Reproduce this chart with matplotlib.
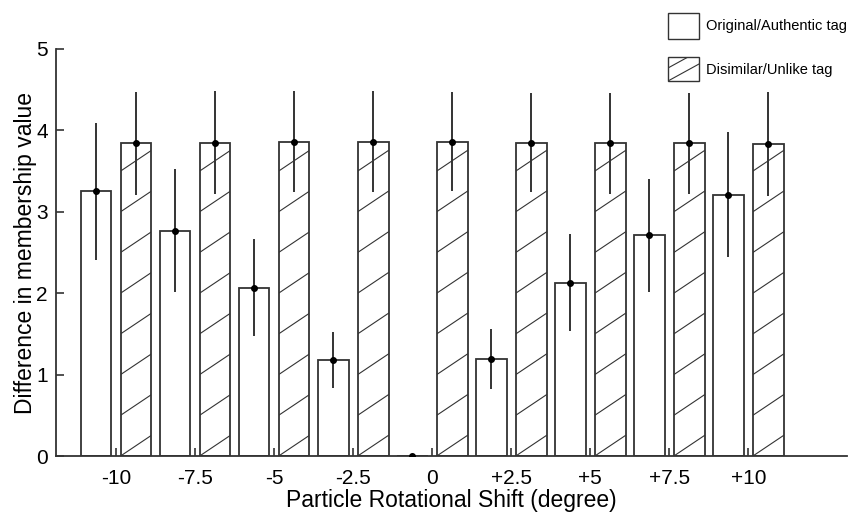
import numpy as np
import matplotlib
matplotlib.use("Agg")
import matplotlib.pyplot as plt
from matplotlib.patches import Rectangle
from matplotlib.lines import Line2D

plt.rcParams["font.family"] = ["Liberation Sans", "DejaVu Sans"]

# ── data ─────────────────────────────────────────────
shift_labels = ["-10", "-7.5", "-5", "-2.5", "0", "+2.5", "+5", "+7.5", "+10"]
authentic = [3.25, 2.77, 2.07, 1.18, 0.0, 1.19, 2.13, 2.71, 3.21]
authentic_err = [0.84, 0.76, 0.60, 0.34, 0.0, 0.37, 0.60, 0.69, 0.77]
unlike = [3.84, 3.85, 3.86, 3.86, 3.86, 3.85, 3.84, 3.84, 3.83]
unlike_err = [0.63, 0.63, 0.62, 0.62, 0.61, 0.61, 0.62, 0.62, 0.64]

edge = "#333333"
x = np.arange(1, len(shift_labels) + 1)
width = 0.39
off = 0.253

fig = plt.figure(figsize=(8.6, 5.14), dpi=100)
ax = fig.add_axes([0.0651, 0.1128, 0.985 - 0.0651, 0.9047 - 0.1128])

b1 = ax.bar(x - off, authentic, width, color="white", edgecolor=edge, linewidth=1.3, zorder=2)
b2 = ax.bar(x + off, unlike, width, color="white", edgecolor=edge, linewidth=1.3, zorder=2)

# shallow diagonal hatch lines, clipped to each bar
step, rise = 0.5, 0.254
for bar in b2:
    x0, w, h = bar.get_x(), bar.get_width(), bar.get_height()
    for y0 in np.arange(0, h, step):
        ln = Line2D([x0, x0 + w], [y0, y0 + rise], color=edge, lw=0.8, zorder=2.5)
        ax.add_line(ln)
        ln.set_clip_path(bar)

ax.errorbar(x - off, authentic, yerr=authentic_err, fmt="o", ms=4, color="black",
            ecolor=edge, elinewidth=1.4, capsize=0, zorder=3)
ax.errorbar(x + off, unlike, yerr=unlike_err, fmt="o", ms=4, color="black",
            ecolor=edge, elinewidth=1.4, capsize=0, zorder=3)

ax.set_xlim(0.241, 10.25)
ax.set_ylim(0, 5)
ax.set_xticks(x)
ax.set_xticklabels(shift_labels, fontsize=15)
ax.set_yticks(range(6))
ax.set_yticklabels([str(v) for v in range(6)], fontsize=15)
ax.tick_params(direction="in", length=6, width=1.2, colors=edge, labelcolor="black")
ax.tick_params(axis="x", pad=9)
ax.tick_params(axis="y", pad=6)
for s in ["top", "right"]:
    ax.spines[s].set_visible(False)
for s in ["left", "bottom"]:
    ax.spines[s].set_color(edge)
    ax.spines[s].set_linewidth(1.3)

ax.set_xlabel("Particle Rotational Shift (degree)", fontsize=16.5, labelpad=1)
ax.set_ylabel("Difference in membership value", fontsize=16.5, labelpad=-1)

# ── legend (figure pixel coords) ─────────────────────
W, H = 860, 514
def box(px, py, pw, ph, hatched=False):
    r = Rectangle((px / W, 1 - (py + ph) / H), pw / W, ph / H, transform=fig.transFigure,
                  facecolor="white", edgecolor=edge, linewidth=1.0)
    fig.add_artist(r)
    if hatched:
        for yy in [py + ph, py + ph - 13]:
            ln = Line2D([px / W, (px + pw) / W], [1 - yy / H, 1 - (yy - 17) / H],
                        transform=fig.transFigure, color=edge, lw=0.8)
            fig.add_artist(ln)
            ln.set_clip_path(r)

box(668, 13, 31, 26)
box(668, 57, 31, 24, hatched=True)
fig.text(706 / W, 1 - 26 / H, "Original/Authentic tag", fontsize=10.5, va="center")
fig.text(706 / W, 1 - 70 / H, "Disimilar/Unlike tag", fontsize=10.5, va="center")

fig.savefig("out.png", dpi=100)
